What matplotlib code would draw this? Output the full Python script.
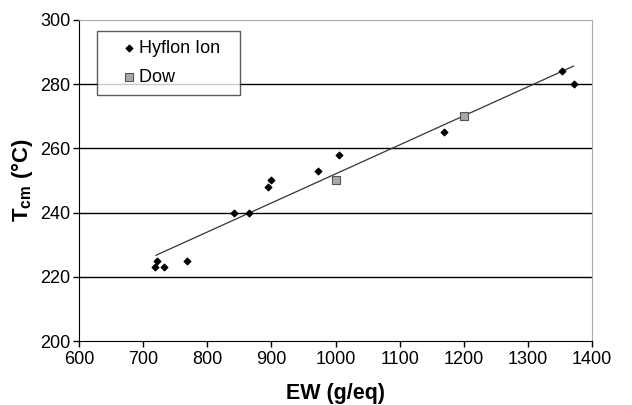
import matplotlib
matplotlib.use('Agg')
import matplotlib.pyplot as plt

plt.rcParams['font.family'] = ['Liberation Sans', 'DejaVu Sans']
plt.rcParams['mathtext.fontset'] = 'custom'
plt.rcParams['mathtext.rm'] = 'Liberation Sans'
plt.rcParams['mathtext.bf'] = 'Liberation Sans:bold'

# Hyflon Ion measurements
hyflon_ew = [718, 722, 733, 769, 841, 865, 895, 899, 973, 1006, 1169, 1353, 1371]
hyflon_t = [223, 225, 223, 225, 240, 240, 248, 250, 253, 258, 265, 284, 280]

# Dow measurements
dow_ew = [1000, 1200]
dow_t = [250, 270]

# linear trend line endpoints
trend_ew = [720, 1371]
trend_t = [226.7, 285.6]

fig = plt.figure(figsize=(6.32, 4.05), dpi=100)
ax = fig.add_axes([0.125, 0.158, 0.812, 0.793])

for y in [220, 240, 260, 280]:
    ax.axhline(y, color='black', lw=1.0, zorder=1)

ax.plot(trend_ew, trend_t, color='#333333', lw=0.9, zorder=2)
ax.scatter(hyflon_ew, hyflon_t, marker='D', s=11, color='black', zorder=3, label='Hyflon Ion')
ax.scatter(dow_ew, dow_t, marker='s', s=26, facecolor='#a8a8a8', edgecolor='#555555',
           linewidth=0.8, zorder=3, label='Dow')

ax.set_xlim(600, 1400)
ax.set_ylim(200, 300)
ax.set_xticks(range(600, 1401, 100))
ax.set_yticks(range(200, 301, 20))
ax.tick_params(direction='out', length=4, width=1, labelsize=13, colors='black', pad=2)

ax.spines['left'].set_color('black')
ax.spines['bottom'].set_color('black')
ax.spines['top'].set_color('#aaaaaa')
ax.spines['right'].set_color('#aaaaaa')
ax.tick_params(axis='x', pad=3)

ax.set_xlabel('EW (g/eq)', fontsize=15.5, fontweight='bold', labelpad=11)
ax.set_ylabel(r'$\mathbf{T_{cm}}$ (°C)', fontsize=16, fontweight='bold', labelpad=4)

leg = ax.legend(loc='upper left', bbox_to_anchor=(0.035, 0.966), fontsize=13,
                frameon=True, fancybox=False, edgecolor='#333333', borderpad=0.5,
                handletextpad=-0.75, handlelength=2.6, labelspacing=0.65, borderaxespad=0)
leg.get_frame().set_linewidth(1.0)
for t in leg.get_texts():
    t.set_text(t.get_text() + '  ')

plt.savefig('out.png', dpi=100)
